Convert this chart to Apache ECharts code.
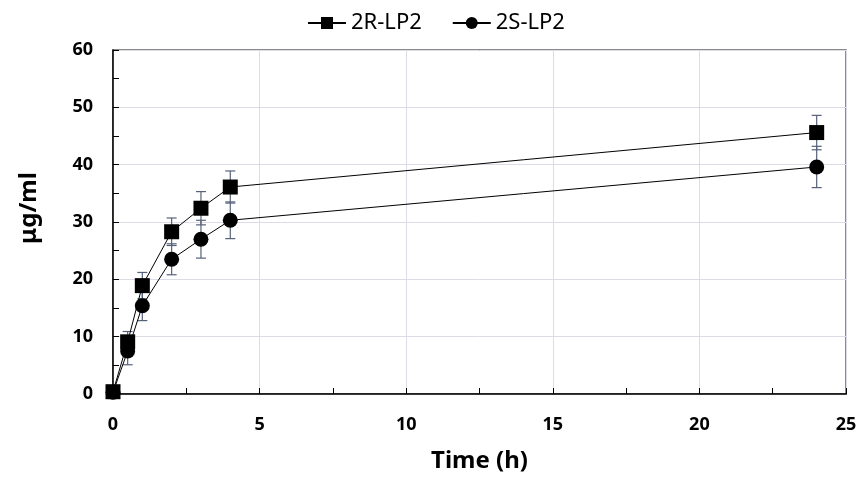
<!DOCTYPE html>
<html>
<head>
<meta charset="utf-8">
<script src="https://cdn.jsdelivr.net/npm/echarts@6/dist/echarts.min.js"></script>
<style>
  html, body { margin: 0; padding: 0; background: #fff; }
  #chart { width: 859px; height: 477px; }
</style>
</head>
<body>
<div id="chart"></div>
<script>
// time points (h)
var timePoints = [0, 0.5, 1, 2, 3, 4, 24];
// 2R-LP2 mean and sd
var rValues = [0.4, 9.1, 18.9, 28.3, 32.4, 36.1, 45.6];
var rErrors = [0.3, 1.8, 2.3, 2.4, 2.9, 2.8, 3.0];
// 2S-LP2 mean and sd
var sValues = [0.3, 7.5, 15.4, 23.5, 27.0, 30.3, 39.6];
var sErrors = [0.3, 2.4, 2.6, 2.7, 3.3, 3.2, 3.6];

var xTicks = [0, 5, 10, 15, 20, 25];
var yTicks = [0, 10, 20, 30, 40, 50, 60];

var fontName = '"Noto Sans", "Open Sans", sans-serif';

function toPairs(xs, ys) {
	var out = [];
	for (var i = 0; i < xs.length; i++) {
		out.push([xs[i], ys[i]]);
	}
	return out;
}

function toErrorRows(xs, ys, es) {
	var out = [];
	for (var i = 0; i < xs.length; i++) {
		out.push([xs[i], ys[i] - es[i], ys[i] + es[i]]);
	}
	return out;
}

// error bar drawing
function renderErrorBar(params, api) {
	var x = api.value(0);
	var low = api.coord([x, api.value(1)]);
	var high = api.coord([x, api.value(2)]);
	var cap = 5;
	var style = { stroke: '#56627a', lineWidth: 1.2 };
	return {
		type: 'group',
		children: [
			{ type: 'line', shape: { x1: low[0], y1: low[1], x2: high[0], y2: high[1] }, style: style },
			{ type: 'line', shape: { x1: low[0] - cap, y1: low[1], x2: low[0] + cap, y2: low[1] }, style: style },
			{ type: 'line', shape: { x1: high[0] - cap, y1: high[1], x2: high[0] + cap, y2: high[1] }, style: style }
		]
	};
}

var myChart = echarts.init(document.getElementById('chart'), null, { renderer: 'canvas' });
var option = {
	animation: false,
	backgroundColor: '#fff',
	textStyle: { fontFamily: fontName },
	legend: {
		top: 7,
		left: 302,
		itemWidth: 38,
		itemHeight: 15,
		itemGap: 30,
		textStyle: { fontSize: 22, color: '#000', fontFamily: fontName },
		data: ['2R-LP2', '2S-LP2']
	},
	grid: {
		left: 113,
		right: 13,
		top: 50,
		bottom: 83,
		show: true,
		borderColor: '#666',
		borderWidth: 1.5,
		outerBoundsMode: 'none'
	},
	xAxis: {
		type: 'value',
		min: xTicks[0],
		max: xTicks[xTicks.length - 1],
		interval: 5,
		name: 'Time (h)',
		nameLocation: 'middle',
		nameGap: 55,
		nameTextStyle: { fontSize: 24, fontWeight: 'bold', color: '#000', fontFamily: fontName },
		axisLine: { lineStyle: { color: '#000', width: 1.5 } },
		axisTick: { show: true, inside: true, length: 6, lineStyle: { color: '#000' } },
		minorTick: { show: true, splitNumber: 2, length: 6, lineStyle: { color: '#000' } },
		axisLabel: { fontSize: 18, fontWeight: 'bold', color: '#000', margin: 22, fontFamily: fontName },
		splitLine: { show: true, lineStyle: { color: '#dcdce6', width: 1 } }
	},
	yAxis: {
		type: 'value',
		min: yTicks[0],
		max: yTicks[yTicks.length - 1],
		interval: 10,
		name: 'μg/ml',
		nameLocation: 'middle',
		nameGap: 72,
		nameRotate: 90,
		nameTextStyle: { fontSize: 24, fontWeight: 'bold', color: '#000', fontFamily: fontName, padding: [0, 0, 0, 28] },
		axisLine: { show: true, lineStyle: { color: '#000', width: 1.5 } },
		axisTick: { show: true, inside: true, length: 6, lineStyle: { color: '#000' } },
		minorTick: { show: true, splitNumber: 2, length: 6, lineStyle: { color: '#000' } },
		axisLabel: { fontSize: 18, fontWeight: 'bold', color: '#000', margin: 20, fontFamily: fontName },
		splitLine: { show: true, lineStyle: { color: '#dcdce6', width: 1 } }
	},
	series: [
		{
			name: '2R-LP2 err',
			type: 'custom',
			renderItem: renderErrorBar,
			encode: { x: 0, y: [1, 2] },
			data: toErrorRows(timePoints, rValues, rErrors),
			z: 1,
			silent: true
		},
		{
			name: '2S-LP2 err',
			type: 'custom',
			renderItem: renderErrorBar,
			encode: { x: 0, y: [1, 2] },
			data: toErrorRows(timePoints, sValues, sErrors),
			z: 1,
			silent: true
		},
		{
			name: '2R-LP2',
			type: 'line',
			symbol: 'rect',
			symbolSize: 15,
			itemStyle: { color: '#000' },
			lineStyle: { color: '#000', width: 1 },
			data: toPairs(timePoints, rValues),
			z: 3
		},
		{
			name: '2S-LP2',
			type: 'line',
			symbol: 'circle',
			symbolSize: 15,
			itemStyle: { color: '#000' },
			lineStyle: { color: '#000', width: 1 },
			data: toPairs(timePoints, sValues),
			z: 3
		}
	]
};
myChart.setOption(option);
</script>
</body>
</html>
